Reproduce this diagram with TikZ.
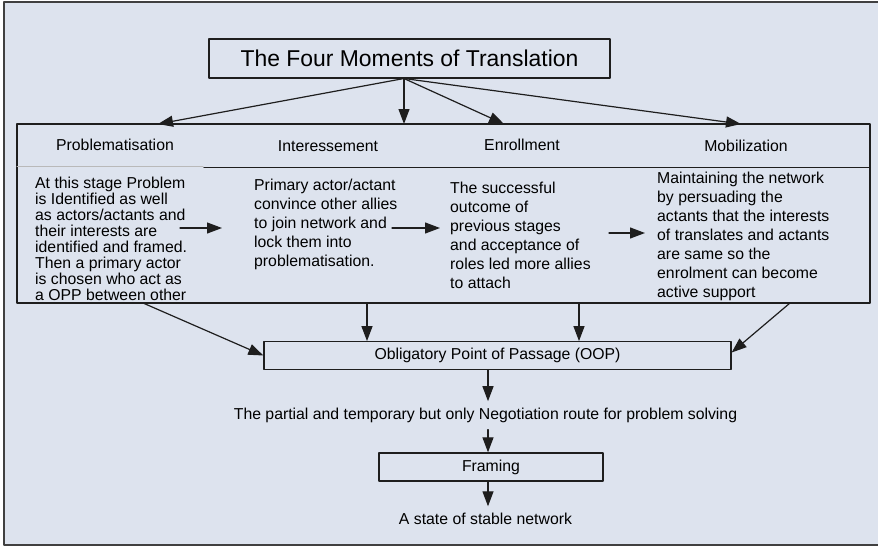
\documentclass[tikz,border=0pt]{standalone}
\usepackage{fontspec}
\setmainfont{Liberation Sans}
\usetikzlibrary{arrows.meta}
\definecolor{bgblue}{RGB}{221,227,238}
\definecolor{inkgray}{RGB}{30,30,30}

\begin{document}
\begin{tikzpicture}[line cap=round,line join=round,>={Triangle[length=15pt,width=11pt]},x=1pt,y=-1pt,
  box/.style={draw=inkgray,line width=1.3pt,inner sep=0pt,font=\fontsize{15.8}{19}\selectfont},
  txt/.style={inner sep=0pt,font=\fontsize{15.8}{19}\selectfont},
  lowtxt/.style={inner xsep=0pt,inner ysep=6.6pt,text height=11.5pt,text depth=3.3pt,font=\fontsize{15.8}{19}\selectfont},
  link/.style={->,draw=inkgray,line width=1.2pt}]

\useasboundingbox (0,0) rectangle (878,546);
\fill[white] (0,0) rectangle (878,546);
\fill[bgblue] (4,2) rectangle (880,545);
\draw[line width=2pt,color=black!75] (880,2) -- (4,2) -- (4,545) -- (880,545);

% title and the four moments
\node[box,minimum width=401,minimum height=39,font=\fontsize{22.9}{26}\selectfont] (title) at (409.5,58.5) {The Four Moments of Translation};
\node[box,minimum width=853,minimum height=179] (moments) at (443.5,213.5) {};
\draw[gray!55,line width=1pt] (17,166) -- (203,166);
\draw[inkgray,line width=1.3pt] (204,167.5) -- (870,167.5);

\node[txt,anchor=base] (prob) at (115,150.5) {Problematisation};
\node[txt,anchor=base] (inter) at (328,151.5) {Interessement};
\node[txt,anchor=base] (enrol) at (522,150.5) {Enrollment};
\node[txt,anchor=base] (mobil) at (746,151.5) {Mobilization};

\node[txt,anchor=north west,align=left,font=\fontsize{15.8}{16}\selectfont] (probtext) at (35,177.2) {At this stage Problem\\is Identified as well\\as actors/actants and\\their interests are\\identified and framed.\\Then a primary actor\\is chosen who act as\\a OPP between other};
\node[txt,anchor=north west,align=left] (intertext) at (254,179.2) {Primary actor/actant\\convince other allies\\to join network and\\lock them into\\problematisation.};
\node[txt,anchor=north west,align=left] (enroltext) at (450,182.2) {The successful\\outcome of\\previous stages\\and acceptance of\\roles led more allies\\to attach};
\node[txt,anchor=north west,align=left] (mobiltext) at (657,172.2) {Maintaining the network\\by persuading the\\actants that the interests\\of translates and actants\\are same so the\\enrolment can become\\active support};

\coordinate (fork) at (404,78.5);
\coordinate (tprob) at (158,124);
\coordinate (tinter) at (404,124);
\coordinate (tenrol) at (504,124);
\coordinate (tmobil) at (741,124);
\draw[link] (fork) -- (tprob);
\draw[link] (fork) -- (tinter);
\draw[link] (fork) -- (tenrol);
\draw[link] (fork) -- (tmobil);

\coordinate (probout) at (180,228);
\coordinate (interin) at (222,228);
\coordinate (interout) at (392,228);
\coordinate (enrolin) at (440,228);
\coordinate (enrolout) at (609,233);
\coordinate (mobilin) at (645,233);
\draw[link] (probout) -- (interin);
\draw[link] (interout) -- (enrolin);
\draw[link] (enrolout) -- (mobilin);

% passage, route and framing
\node[box,minimum width=467,minimum height=27.5] (oop) at (497.5,355.5) {Obligatory Point of Passage (OOP)};
\node[lowtxt] (route) at (485.5,415.4) {The partial and temporary but only Negotiation route for problem solving};
\node[box,minimum width=224,minimum height=28] (framing) at (491,467) {Framing};
\node[lowtxt] (state) at (485.5,520.5) {A state of stable network};

\coordinate (bprob) at (143,303);
\coordinate (binter) at (367,303);
\coordinate (benrol) at (579,303);
\coordinate (bmobil) at (790,303);
\draw[link] (bprob) -- (oop.west);
\draw[link] (binter) -- (binter |- oop.north);
\draw[link] (benrol) -- (benrol |- oop.north);
\draw[link] (bmobil) -- ([yshift=3pt]oop.east);

\draw[link] (oop.south -| 488,0) -- (route.north -| 488,0);
\draw[link] (route.south -| 488,0) -- (framing.north -| 488,0);
\draw[link] (framing.south -| 488,0) -- (state.north -| 488,0);

\end{tikzpicture}
\end{document}
